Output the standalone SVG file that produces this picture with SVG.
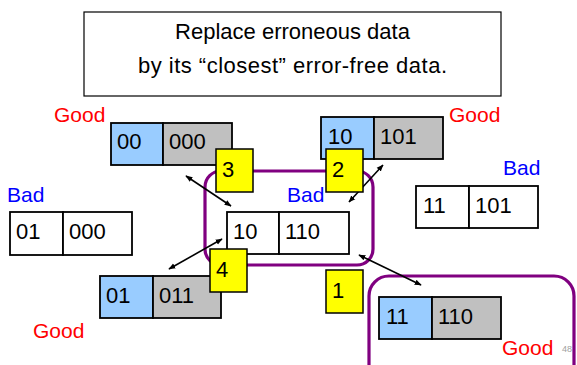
<svg xmlns="http://www.w3.org/2000/svg" width="577" height="365" viewBox="0 0 577 365">
<style>
text{font-family:"Liberation Sans",Arial,sans-serif;}
.t{font-size:22px;fill:#000;}
.good{font-size:21px;fill:#FF0000;}
.bad{font-size:21px;fill:#0000FF;}
.cell{stroke:#000;stroke-width:1.8;}
.blue{fill:#99CCFF;}
.gray{fill:#C0C0C0;}
.white{fill:#FFFFFF;}
.yel{fill:#FFFF00;stroke:#000;stroke-width:1.5;}
.ring{fill:none;stroke:#800080;stroke-width:3.2;}
.arr{stroke:#000;stroke-width:1.6;fill:none;marker-start:url(#ah);marker-end:url(#ah);}
</style>
<defs>
<marker id="ah" viewBox="0 0 10 10" refX="9" refY="5" markerWidth="7" markerHeight="7" markerUnits="userSpaceOnUse" orient="auto-start-reverse">
<path d="M0,1 L10,5 L0,9 Z" fill="#000"/>
</marker>
</defs>
<rect width="577" height="365" fill="#FFFFFF"/>

<g id="title">
<rect x="84" y="12" width="417" height="84" fill="#FFFFFF" stroke="#000" stroke-width="1.2"/>
<text class="t" x="292.5" y="39" text-anchor="middle">Replace erroneous data</text>
<text class="t" x="292.5" y="73" text-anchor="middle" textLength="309" lengthAdjust="spacing">by its “closest” error-free data.</text>
</g>

<g id="ring-center"><rect class="ring" x="205" y="171" width="168" height="94" rx="16"/></g>
<g id="ring-bottom"><rect class="ring" x="369" y="276" width="205" height="110" rx="20"/></g>

<g id="node-00-000">
<rect class="cell blue" x="111" y="123" width="52" height="42"/>
<rect class="cell gray" x="163" y="123" width="69" height="42"/>
<text class="t" x="117" y="149">00</text>
<text class="t" x="169" y="149">000</text>
<text class="good" x="54" y="122">Good</text>
</g>

<g id="node-10-101">
<rect class="cell blue" x="321" y="117" width="53" height="42"/>
<rect class="cell gray" x="374" y="117" width="69" height="42"/>
<text class="t" x="328" y="144">10</text>
<text class="t" x="380" y="144">101</text>
<text class="good" x="449" y="122">Good</text>
</g>

<g id="node-01-000">
<rect class="cell white" x="10" y="212" width="53" height="43"/>
<rect class="cell white" x="63" y="212" width="69" height="43"/>
<text class="t" x="16" y="239">01</text>
<text class="t" x="69" y="239">000</text>
<text class="bad" x="7" y="202">Bad</text>
</g>

<g id="node-10-110">
<rect class="cell white" x="227" y="212" width="52" height="42"/>
<rect class="cell white" x="279" y="212" width="70" height="42"/>
<text class="t" x="233" y="239">10</text>
<text class="t" x="285" y="239">110</text>
<text class="bad" x="287" y="202">Bad</text>
</g>

<g id="node-11-101">
<rect class="cell white" x="416" y="186" width="53" height="42"/>
<rect class="cell white" x="469" y="186" width="69" height="42"/>
<text class="t" x="423" y="213">11</text>
<text class="t" x="475" y="213">101</text>
<text class="bad" x="503" y="175">Bad</text>
</g>

<g id="node-01-011">
<rect class="cell blue" x="100" y="276" width="53" height="42"/>
<rect class="cell gray" x="153" y="276" width="68" height="42"/>
<text class="t" x="106" y="303">01</text>
<text class="t" x="159" y="303">011</text>
<text class="good" x="33" y="338">Good</text>
</g>

<g id="node-11-110">
<rect class="cell blue" x="379" y="297" width="53" height="42"/>
<rect class="cell gray" x="432" y="297" width="69" height="42"/>
<text class="t" x="386" y="324">11</text>
<text class="t" x="438" y="324">110</text>
<text class="good" x="502" y="355">Good</text>
</g>

<g id="connectors">
<line class="arr" x1="186" y1="176" x2="231" y2="206"/>
<line class="arr" x1="383" y1="165" x2="349" y2="202"/>
<line class="arr" x1="222" y1="239" x2="169" y2="269"/>
<line class="arr" x1="359" y1="255" x2="421" y2="285"/>
</g>

<g id="label-3"><rect class="yel" x="216" y="149" width="37" height="43"/><text class="t" x="222" y="177">3</text></g>
<g id="label-2"><rect class="yel" x="326" y="149" width="37" height="43"/><text class="t" x="332" y="177">2</text></g>
<g id="label-4"><rect class="yel" x="210" y="249" width="37" height="43"/><text class="t" x="216" y="277">4</text></g>
<g id="label-1"><rect class="yel" x="326" y="270" width="37" height="43"/><text class="t" x="332" y="298">1</text></g>

<text x="562" y="352" font-size="9" fill="#A0A0A0">48</text>
</svg>
